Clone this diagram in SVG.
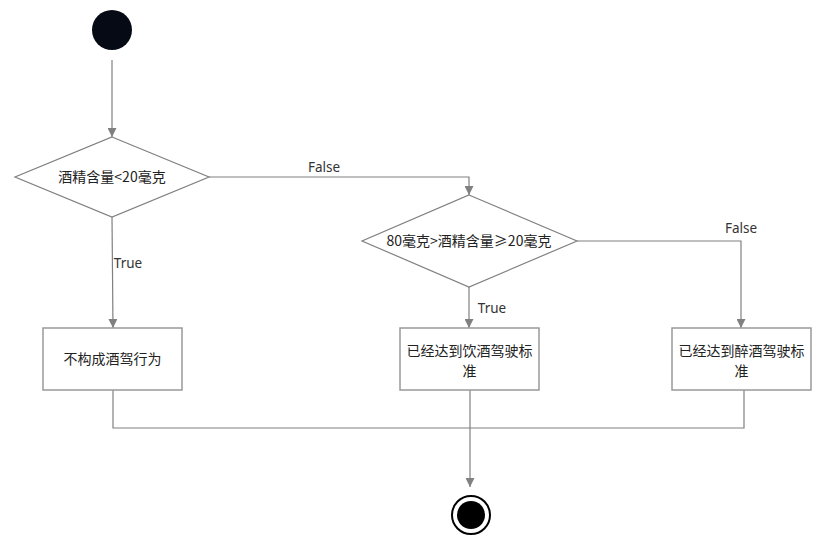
<svg xmlns="http://www.w3.org/2000/svg" width="819" height="540" viewBox="0 0 819 540">
<style>
.ln{fill:none;stroke:#808080;stroke-width:1.2}
.dm{fill:#fff;stroke:#808080;stroke-width:1.2}
.bx{fill:#fff;stroke:#999;stroke-width:1.5}
.t{font-family:"Noto Sans CJK SC","Noto Sans",sans-serif;font-size:14px;fill:#222;text-anchor:middle}
.lb{font-family:"Noto Sans","Noto Sans CJK SC",sans-serif;font-size:13.5px;fill:#333;text-anchor:middle}
</style>
<defs>
<marker id="ar" viewBox="0 0 10 10" refX="10" refY="5" markerWidth="9" markerHeight="9" markerUnits="userSpaceOnUse" orient="auto">
<path d="M0,0 L10,5 L0,10 z" fill="#808080"/>
</marker>
</defs>
<rect width="819" height="540" fill="#fff"/>
<g id="connectors">
<line class="ln" x1="112" y1="60" x2="112" y2="137" marker-end="url(#ar)"/>
<line class="ln" x1="112" y1="217" x2="113" y2="328" marker-end="url(#ar)"/>
<text class="lb" x="128" y="268">True</text>
<polyline class="ln" points="209,177 469,177 469,195" marker-end="url(#ar)"/>
<text class="lb" x="324" y="172">False</text>
<line class="ln" x1="469" y1="287" x2="469" y2="328" marker-end="url(#ar)"/>
<text class="lb" x="492" y="313">True</text>
<polyline class="ln" points="577,241 741,241 741,328" marker-end="url(#ar)"/>
<text class="lb" x="741" y="233">False</text>
<polyline class="ln" points="113,390 113,428 744,428 744,390"/>
<line class="ln" x1="470" y1="390" x2="470" y2="487" marker-end="url(#ar)"/>
</g>
<g id="start">
<circle cx="112" cy="30" r="20" fill="#050a14"/>
</g>
<g id="decision1">
<polygon class="dm" points="112,137 209,177 112,217 15,177"/>
<text class="t" x="112" y="182">酒精含量&lt;20毫克</text>
</g>
<g id="decision2">
<polygon class="dm" points="469,195 577,241 469,287 362,241"/>
<text class="t" x="469" y="246">80毫克&gt;酒精含量≥20毫克</text>
</g>
<g id="node1">
<rect class="bx" x="43" y="328" width="139" height="62"/>
<text class="t" x="112.5" y="364">不构成酒驾行为</text>
</g>
<g id="node2">
<rect class="bx" x="400" y="328" width="139" height="62"/>
<text class="t" x="469.5" y="356">已经达到饮酒驾驶标</text>
<text class="t" x="469.5" y="376">准</text>
</g>
<g id="node3">
<rect class="bx" x="672" y="328" width="139" height="62"/>
<text class="t" x="741.5" y="356">已经达到醉酒驾驶标</text>
<text class="t" x="741.5" y="376">准</text>
</g>
<g id="end">
<circle cx="471" cy="515" r="19" fill="#fff" stroke="#000" stroke-width="2"/>
<circle cx="471" cy="515" r="14" fill="#000"/>
</g>
</svg>
